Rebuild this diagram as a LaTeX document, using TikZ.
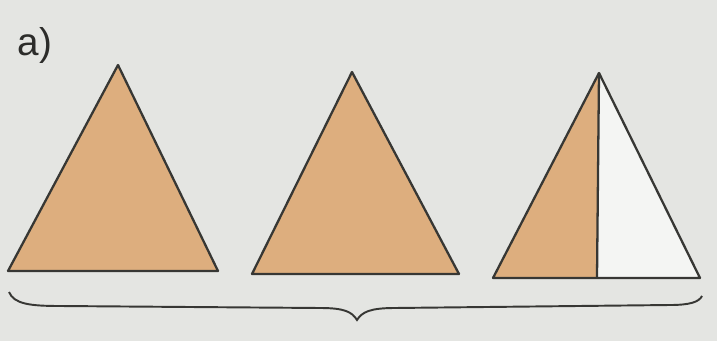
\documentclass[tikz,border=0pt]{standalone}
\usepackage{fontspec}
\setmainfont{Liberation Sans}
\definecolor{paper}{RGB}{228, 229, 226}
\definecolor{sandfill}{RGB}{221, 174, 126}
\definecolor{inkgrey}{RGB}{55, 55, 52}
\definecolor{blankfill}{RGB}{244, 245, 243}
\begin{document}
\begin{tikzpicture}[x=0.02cm, y=-0.02cm, edge/.style={line width=1.3pt, inkgrey, line join=round}]
    % page
    \fill[paper] (0, 0) rectangle (717, 341);
    \useasboundingbox (0, 0) rectangle (717, 341);

    % label
    \node[inkgrey!80!black] at (35, 45) {\fontsize{22}{26}\selectfont a)};

    % whole triangles
    \filldraw[edge, fill=sandfill] (8, 271) -- (118, 65) -- (218, 271) -- cycle;
    \filldraw[edge, fill=sandfill] (252, 274) -- (352, 72) -- (459, 274) -- cycle;

    % split triangle: left half shaded
    \fill[sandfill] (493, 278) -- (599, 73) -- (597, 278) -- cycle;
    \fill[blankfill] (597, 278) -- (599, 73) -- (700, 278) -- cycle;
    \draw[edge] (493, 278) -- (599, 73) -- (700, 278) -- cycle;
    \draw[edge] (599, 73) -- (597, 278);

    % brace under the three
    \draw[line width=1.1pt, inkgrey]
        (9, 292) .. controls (14, 304) and (30, 306) .. (60, 306)
        -- (320, 308) .. controls (345, 308) and (352, 312) .. (357, 320)
        .. controls (362, 312) and (370, 308) .. (395, 308)
        -- (670, 305) .. controls (690, 305) and (699, 302) .. (702, 296);
\end{tikzpicture}
\end{document}
